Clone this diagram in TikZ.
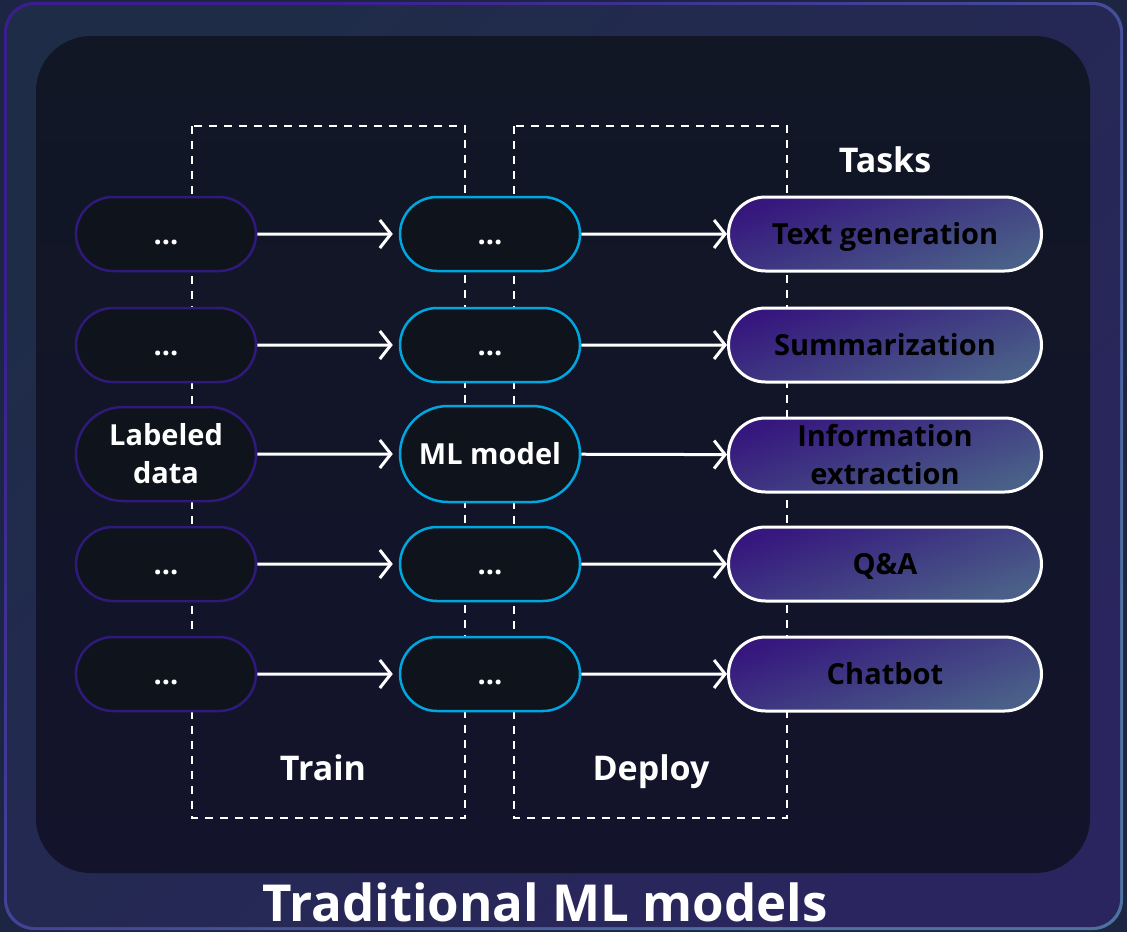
\documentclass[tikz,border=0pt]{standalone}
\usepackage{fontspec}
\setmainfont{Open Sans}
\usetikzlibrary{arrows.meta,shapes.misc}
\definecolor{pagebg}{HTML}{1C2542}
\definecolor{bordA}{HTML}{3A1E8E}
\definecolor{bordB}{HTML}{4E72A0}
\definecolor{bgA}{HTML}{1F2C48}
\definecolor{bgB}{HTML}{2A255E}
\definecolor{inA}{HTML}{111725}
\definecolor{inB}{HTML}{13132B}
\definecolor{nodefill}{HTML}{0F131C}
\definecolor{srcc}{HTML}{2F1A7A}
\definecolor{mdlc}{HTML}{00A6E0}
\definecolor{taskA}{HTML}{36177E}
\definecolor{taskB}{HTML}{4A6088}
\tikzset{
  base/.style={rounded rectangle, minimum width=180pt, minimum height=74pt, inner sep=0pt,
    font=\fontsize{29}{38}\selectfont\bfseries, align=center},
  one/.style={text height=20.5pt, text depth=0pt},
  src/.style={base, draw=srcc, line width=2.5pt, fill=nodefill, text=white},
  mdl/.style={base, draw=mdlc, line width=2.5pt, fill=nodefill, text=white},
  task/.style={base, minimum width=313pt, draw=white, line width=3pt, top color=taskA,
    bottom color=taskB, shading angle=20, text=black},
  arr/.style={draw=white, line width=3pt, -{Straight Barb[length=11pt,width=28pt]}},
  dashbox/.style={draw=white, line width=2pt, dash pattern=on 8pt off 7pt},
  lbl/.style={text=white, font=\fontsize{34}{40}\selectfont\bfseries, anchor=base}
}
\begin{document}
\begin{tikzpicture}[x=1pt,y=-1pt]
\useasboundingbox (0,0) rectangle (1127,932);
\fill[pagebg] (0,0) rectangle (1127,932);
\shade[rounded corners=30pt, top color=bordA, bottom color=bordB, shading angle=45] (4,2) rectangle (1123,930);
\shade[rounded corners=28pt, top color=bgA, bottom color=bgB, shading angle=45] (7,5) rectangle (1120,927);
\shade[rounded corners=55pt, top color=inA, bottom color=inB] (36,36) rectangle (1090,873);

\draw[dashbox] (192,126) rectangle (465,818);
\draw[dashbox] (514,126) rectangle (787,818);

\node[src,one] (s1) at (166,234) {...};
\node[src,one] (s2) at (166,345) {...};
\node[src,minimum height=94pt] (s3) at (166,454) {Labeled\\data};
\node[src,one] (s4) at (166,564) {...};
\node[src,one] (s5) at (166,674) {...};

\node[mdl,one] (m1) at (490,234) {...};
\node[mdl,one] (m2) at (490,345) {...};
\node[mdl,one,minimum height=96pt] (m3) at (490,454) {ML model};
\node[mdl,one] (m4) at (490,564) {...};
\node[mdl,one] (m5) at (490,674) {...};

\node[task,one] (t1) at (885,234) {Text generation};
\node[task,one] (t2) at (885,345) {Summarization};
\node[task] (t3) at (885,455) {Information\\extraction};
\node[task,one] (t4) at (885,564) {Q\&A};
\node[task,one] (t5) at (885,674) {Chatbot};

\foreach \i in {1,...,5}{
  \draw[arr, shorten >=6pt] (s\i) -- (m\i);
  \draw[arr] (m\i) -- (t\i);
}

\node[lbl] (tasks) at (885,172) {Tasks};
\node[lbl] (train) at (323,780) {Train};
\node[lbl] (deploy) at (651,780) {Deploy};
\node[text=white, font=\fontsize{51}{56}\selectfont\bfseries, anchor=base, inner sep=0pt, text depth=0pt] (title) at (545,921) {Traditional ML models};
\end{tikzpicture}
\end{document}
